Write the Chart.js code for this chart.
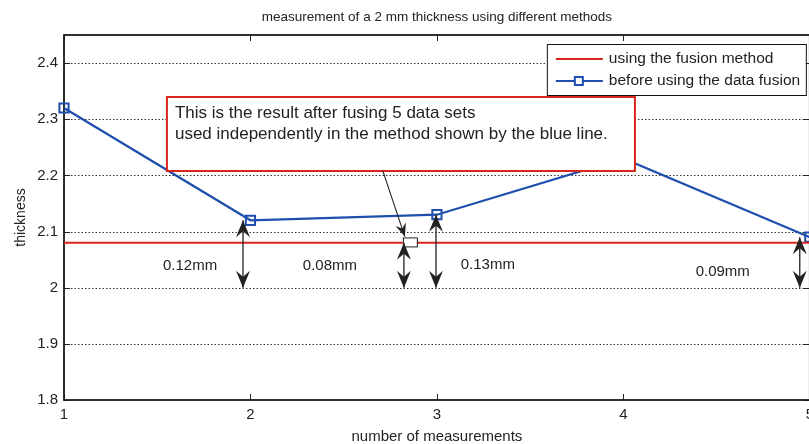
<!DOCTYPE html>
<html>
<head>
<meta charset="utf-8">
<script src="https://cdn.jsdelivr.net/npm/chart.js@4.4.0/dist/chart.umd.min.js"></script>
<style>
  html, body { margin: 0; padding: 0; background: #fff; overflow: hidden; }
  #wrap { width: 820px; height: 444px; }
</style>
</head>
<body>
<div id="wrap"><canvas id="c" width="820" height="444"></canvas></div>
<script>
// Measurement index on the x axis
const measurements = [1, 2, 3, 4, 5];
// Thickness after data fusion (constant result)
const fusedThickness = [2.08, 2.08, 2.08, 2.08, 2.08];
// Thickness from each measurement before fusion
const rawThickness = [2.32, 2.12, 2.13, 2.23, 2.09];
// Y tick values
const yTickValues = [1.8, 1.9, 2.0, 2.1, 2.2, 2.3, 2.4];

// Error annotations: arrow x position, arrow top value, label text, label position
const gapBase = 2.0;
const gapArrowX = [1.96, 2.823, 2.995, 4.946];
const gapArrowTop = [2.12, 2.08, 2.13, 2.09];
const gapLabels = ['0.12mm', '0.08mm', '0.13mm', '0.09mm'];
const gapLabelX = [1.676, 2.426, 3.273, 4.533];
const gapLabelY = [2.039, 2.039, 2.040, 2.028];

// Callout note
const noteLines = [
  'This is the result after fusing 5 data sets',
  'used independently in the method shown by the blue line.'
];
const noteBoxX = [1.552, 4.062];
const noteBoxY = [2.3396, 2.2078];
const calloutFrom = { x: 2.71, y: 2.208 };
const calloutTo = { x: 2.828, y: 2.091 };
const fusedMarker = { x: 2.855, y: 2.0815 };

const RED = '#d8261c';
const BLUE = '#1f4fad';
const INK = '#222222';
const FONT = '"Liberation Sans", Arial, Helvetica, sans-serif';

function arrowHead(ctx, tx, ty, angle, L, W, N) {
  const dx = Math.cos(angle), dy = Math.sin(angle);
  const px = -dy, py = dx;
  ctx.beginPath();
  ctx.moveTo(tx, ty);
  ctx.lineTo(tx - dx * L + px * W, ty - dy * L + py * W);
  ctx.lineTo(tx - dx * (L - N), ty - dy * (L - N));
  ctx.lineTo(tx - dx * L - px * W, ty - dy * L - py * W);
  ctx.closePath();
  ctx.fill();
}

const framePlugin = {
  id: 'frame',
  beforeDatasetsDraw(chart) {
    const { ctx, chartArea: a, scales: { x, y } } = chart;
    ctx.save();
    // dotted horizontal grid lines
    ctx.strokeStyle = '#333';
    ctx.lineWidth = 1;
    ctx.setLineDash([1.5, 2]);
    y.ticks.forEach(t => {
      if (t.value <= y.min + 1e-9) return;
      const py = Math.round(y.getPixelForValue(t.value)) + 0.5;
      ctx.beginPath();
      ctx.moveTo(a.left, py);
      ctx.lineTo(a.right, py);
      ctx.stroke();
    });
    ctx.setLineDash([]);
    // inward tick marks
    ctx.strokeStyle = INK;
    y.ticks.forEach(t => {
      const py = Math.round(y.getPixelForValue(t.value)) + 0.5;
      ctx.beginPath();
      ctx.moveTo(a.left, py); ctx.lineTo(a.left + 6, py);
      ctx.moveTo(a.right, py); ctx.lineTo(a.right - 6, py);
      ctx.stroke();
    });
    x.ticks.forEach(t => {
      const px = Math.round(x.getPixelForValue(t.value)) + 0.5;
      ctx.beginPath();
      ctx.moveTo(px, a.bottom); ctx.lineTo(px, a.bottom - 6);
      ctx.moveTo(px, a.top); ctx.lineTo(px, a.top + 6);
      ctx.stroke();
    });
    // axes frame
    ctx.lineWidth = 1.8;
    ctx.strokeStyle = '#1a1a1a';
    ctx.strokeRect(a.left, a.top, a.right - a.left, a.bottom - a.top);
    ctx.restore();
  },
  afterDatasetsDraw(chart) {
    const { ctx, chartArea: a, scales: { x, y } } = chart;
    ctx.save();

    // callout box
    const bx0 = x.getPixelForValue(noteBoxX[0]), bx1 = x.getPixelForValue(noteBoxX[1]);
    const by0 = y.getPixelForValue(noteBoxY[0]), by1 = y.getPixelForValue(noteBoxY[1]);
    ctx.fillStyle = '#fff';
    ctx.fillRect(bx0, by0, bx1 - bx0, by1 - by0);
    ctx.strokeStyle = RED;
    ctx.lineWidth = 2;
    ctx.strokeRect(bx0, by0, bx1 - bx0, by1 - by0);
    ctx.fillStyle = INK;
    ctx.font = '17px ' + FONT;
    ctx.textBaseline = 'middle';
    ctx.textAlign = 'left';
    noteLines.forEach((s, i) => ctx.fillText(s, bx0 + 8, by0 + 16 + i * 21));

    // callout pointer
    const fx = x.getPixelForValue(calloutFrom.x), fy = y.getPixelForValue(calloutFrom.y);
    const tx = x.getPixelForValue(calloutTo.x), ty = y.getPixelForValue(calloutTo.y);
    ctx.strokeStyle = INK;
    ctx.fillStyle = INK;
    ctx.lineWidth = 1.1;
    ctx.beginPath(); ctx.moveTo(fx, fy); ctx.lineTo(tx, ty); ctx.stroke();
    arrowHead(ctx, tx, ty, Math.atan2(ty - fy, tx - fx), 13, 5.5, 4.5);

    // marker of the fused result
    const mx = x.getPixelForValue(fusedMarker.x), my = y.getPixelForValue(fusedMarker.y);
    ctx.fillStyle = '#fff';
    ctx.fillRect(mx - 7, my - 4.5, 14, 9);
    ctx.strokeStyle = INK;
    ctx.lineWidth = 1;
    ctx.strokeRect(mx - 7 + 0.5, my - 4.5 + 0.5, 14, 9);

    // double arrows with gap labels
    ctx.strokeStyle = INK;
    ctx.fillStyle = INK;
    gapArrowX.forEach((gx, i) => {
      const px = x.getPixelForValue(gx);
      const yb = y.getPixelForValue(gapBase);
      const yt = y.getPixelForValue(gapArrowTop[i]);
      ctx.lineWidth = 1.3;
      ctx.beginPath(); ctx.moveTo(px, yb); ctx.lineTo(px, yt); ctx.stroke();
      arrowHead(ctx, px, yt, -Math.PI / 2, 17, 7, 6);
      arrowHead(ctx, px, yb, Math.PI / 2, 17, 7, 6);
    });
    ctx.font = '15px ' + FONT;
    ctx.textAlign = 'center';
    ctx.textBaseline = 'middle';
    gapLabels.forEach((s, i) => {
      ctx.fillText(s, x.getPixelForValue(gapLabelX[i]), y.getPixelForValue(gapLabelY[i]));
    });

    // legend
    const lx = a.right - 263, ly = a.top + 9, lw = 259, lh = 51;
    ctx.fillStyle = '#fff';
    ctx.fillRect(lx, ly, lw, lh);
    ctx.strokeStyle = '#111';
    ctx.lineWidth = 1;
    ctx.strokeRect(lx + 0.5, ly + 0.5, lw, lh);
    const ds = chart.data.datasets;
    [15, 37].forEach((off, i) => {
      const yy = ly + off;
      ctx.strokeStyle = ds[i].borderColor;
      ctx.lineWidth = 2;
      ctx.beginPath(); ctx.moveTo(lx + 9, yy); ctx.lineTo(lx + 56, yy); ctx.stroke();
      if (i === 1) {
        ctx.fillStyle = '#fff';
        ctx.fillRect(lx + 28, yy - 4, 8, 8);
        ctx.strokeRect(lx + 28, yy - 4, 8, 8);
      }
      ctx.fillStyle = INK;
      ctx.font = '15.5px ' + FONT;
      ctx.textAlign = 'left';
      ctx.textBaseline = 'middle';
      ctx.fillText(ds[i].label, lx + 62, yy);
    });
    ctx.restore();
  }
};

new Chart(document.getElementById('c'), {
  type: 'line',
  data: {
    datasets: [
      {
        label: 'using the fusion method',
        data: measurements.map((m, i) => ({ x: m, y: fusedThickness[i] })),
        borderColor: RED,
        borderWidth: 2,
        pointRadius: 0,
        clip: false
      },
      {
        label: 'before using the data fusion',
        data: measurements.map((m, i) => ({ x: m, y: rawThickness[i] })),
        borderColor: BLUE,
        borderWidth: 2.2,
        pointStyle: 'rect',
        pointRadius: 6.5,
        pointBorderWidth: 2,
        pointBorderColor: BLUE,
        pointBackgroundColor: 'rgba(255,255,255,0)',
        clip: false
      }
    ]
  },
  options: {
    responsive: false,
    animation: false,
    layout: { padding: { left: 0, right: 10, top: 0, bottom: 0 } },
    plugins: {
      legend: { display: false },
      tooltip: { enabled: false },
      title: {
        display: true,
        fullSize: false,
        text: 'measurement of a 2 mm thickness using different methods',
        color: INK,
        font: { size: 13.5, family: FONT, weight: 'normal', lineHeight: 1.2 },
        padding: { top: 8.9, bottom: 9.9 }
      }
    },
    scales: {
      x: {
        type: 'linear',
        min: 1,
        max: 5,
        grid: { display: false, drawTicks: false },
        border: { display: false },
        ticks: { stepSize: 1, color: INK, font: { size: 15, family: FONT }, padding: 6, maxRotation: 0 },
        title: { display: true, text: 'number of measurements', color: INK, font: { size: 15, family: FONT, lineHeight: 1 }, padding: { top: 0, bottom: 0 } },
        afterFit(s) { s.height = 44; }
      },
      y: {
        min: 1.8,
        max: 2.45,
        grid: { display: false, drawTicks: false },
        border: { display: false },
        afterBuildTicks(s) { s.ticks = yTickValues.map(v => ({ value: v })); },
        ticks: {
          color: INK,
          font: { size: 15, family: FONT },
          padding: 6,
          callback: v => String(+v.toFixed(2))
        },
        title: { display: true, text: 'thickness', color: INK, font: { size: 14, family: FONT, lineHeight: 1.2 }, padding: { top: 13, bottom: 0 } },
        afterFit(s) { s.width = 64; }
      }
    }
  },
  plugins: [framePlugin]
});
</script>
</body>
</html>
